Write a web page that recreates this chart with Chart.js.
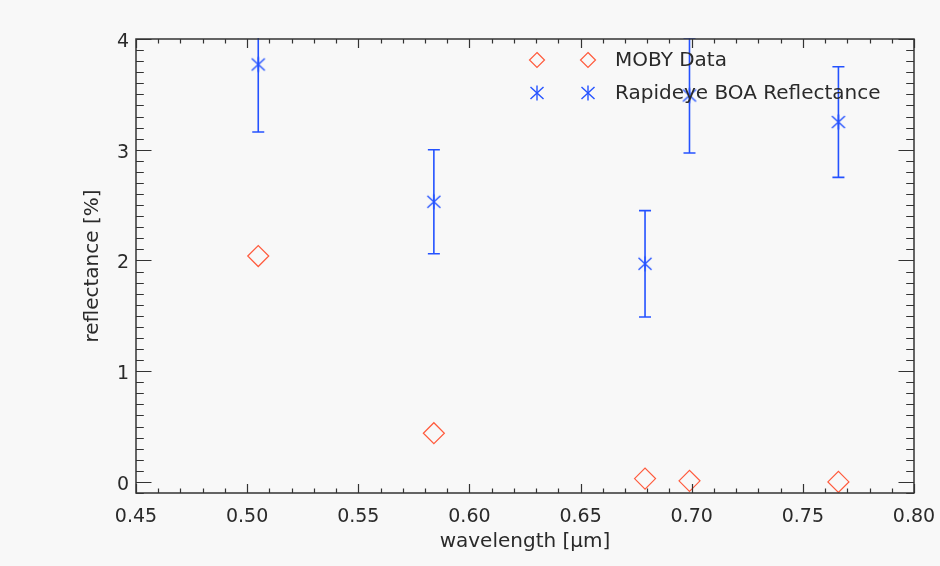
<!DOCTYPE html>
<html>
<head>
<meta charset="utf-8">
<script src="https://cdn.jsdelivr.net/npm/chart.js@4.4.1/dist/chart.umd.min.js"></script>
<style>
  html, body { margin: 0; padding: 0; background: #f8f8f8; }
  canvas { display: block; }
</style>
</head>
<body>
<canvas id="chart" width="940" height="566"></canvas>
<script>
// MOBY in-situ vs Rapideye bottom-of-atmosphere reflectance, per band.

const mobyWl = [0.505, 0.584, 0.679, 0.699, 0.766];
const mobyRefl = [2.04, 0.44, 0.03, 0.01, 0.0];

const rapWl = [0.505, 0.584, 0.679, 0.699, 0.766];
const rapRefl = [3.77, 2.53, 1.97, 3.49, 3.25];
const rapErr = [0.61, 0.47, 0.48, 0.52, 0.50];

const xTicks = [0.45, 0.50, 0.55, 0.60, 0.65, 0.70, 0.75, 0.80];
const yTicks = [0, 1, 2, 3, 4];
const seriesNames = ['MOBY Data', 'Rapideye BOA Reflectance'];

const FONT = '"DejaVu Sans", sans-serif';
const INK = '#2a2a2a';
const RED = '#ff5a3c';
const BLUE = '#2452ff';

// IDL-style asterisk: vertical stroke plus an X.
function makeAsterisk(r, color) {
  const s = Math.ceil(2 * r + 3);
  const c = document.createElement('canvas');
  c.width = c.height = s;
  const g = c.getContext('2d');
  g.translate(s / 2, s / 2);
  g.strokeStyle = color;
  g.lineWidth = 1.4;
  const arms = [[0, r], [r * 0.87, r * 0.8], [r * 0.87, -r * 0.8]];
  for (const [dx, dy] of arms) {
    g.beginPath();
    g.moveTo(-dx, -dy);
    g.lineTo(dx, dy);
    g.stroke();
  }
  return c;
}
const star = makeAsterisk(7.5, BLUE);

const bgPlugin = {
  id: 'bg',
  beforeDraw(chart) {
    const ctx = chart.ctx;
    ctx.save();
    ctx.fillStyle = '#f8f8f8';
    ctx.fillRect(0, 0, chart.width, chart.height);
    ctx.restore();
  },
};

// Error bars for the Rapideye series, clipped to the plot box.
const errorBarPlugin = {
  id: 'errbars',
  afterDatasetsDraw(chart) {
    const { ctx, chartArea: a, scales: { x, y } } = chart;
    ctx.save();
    ctx.beginPath();
    ctx.rect(a.left, a.top - 1, a.right - a.left, a.bottom - a.top + 1);
    ctx.clip();
    ctx.strokeStyle = BLUE;
    ctx.lineWidth = 1.6;
    rapWl.forEach((wl, i) => {
      const px = x.getPixelForValue(wl);
      const y0 = y.getPixelForValue(rapRefl[i] - rapErr[i]);
      const y1 = y.getPixelForValue(rapRefl[i] + rapErr[i]);
      ctx.beginPath();
      ctx.moveTo(px, y0); ctx.lineTo(px, y1);
      ctx.moveTo(px - 6, y0); ctx.lineTo(px + 6, y0);
      ctx.moveTo(px - 6, y1); ctx.lineTo(px + 6, y1);
      ctx.stroke();
    });
    ctx.restore();
  },
};

// Box with inward major/minor ticks on all four sides.
const framePlugin = {
  id: 'frame',
  afterDraw(chart) {
    const { ctx, chartArea: a, scales: { x, y } } = chart;
    ctx.save();
    ctx.strokeStyle = '#333';
    ctx.lineWidth = 1.5;
    ctx.strokeRect(a.left, a.top, a.right - a.left, a.bottom - a.top);
    ctx.lineWidth = 1.2;
    ctx.beginPath();
    for (let i = 45; i <= 80; i++) {
      const px = Math.round(x.getPixelForValue(i / 100)) + 0.5;
      const len = i % 5 === 0 ? 9 : 4.5;
      ctx.moveTo(px, a.bottom); ctx.lineTo(px, a.bottom - len);
      ctx.moveTo(px, a.top); ctx.lineTo(px, a.top + len);
    }
    for (let i = -1; i <= 40; i++) {
      const py = Math.round(y.getPixelForValue(i / 10)) + 0.5;
      const len = i % 10 === 0 ? 15.5 : 7.8;
      ctx.moveTo(a.left, py); ctx.lineTo(a.left + len, py);
      ctx.moveTo(a.right, py); ctx.lineTo(a.right - len, py);
    }
    ctx.stroke();
    ctx.restore();
  },
};

// Two symbols per entry, the way IDL's legend draws them.
const legendPlugin = {
  id: 'idlLegend',
  afterDraw(chart) {
    const ctx = chart.ctx;
    const rows = [60, 93];
    const cols = [537, 588];
    ctx.save();
    ctx.font = '20px ' + FONT;
    ctx.textBaseline = 'middle';
    ctx.textAlign = 'left';
    ctx.fillStyle = INK;
    rows.forEach((ry, r) => {
      for (const cx of cols) {
        if (r === 0) {
          ctx.strokeStyle = RED;
          ctx.lineWidth = 1.2;
          ctx.beginPath();
          ctx.moveTo(cx, ry - 7.5); ctx.lineTo(cx + 7.5, ry);
          ctx.lineTo(cx, ry + 7.5); ctx.lineTo(cx - 7.5, ry);
          ctx.closePath();
          ctx.stroke();
        } else {
          ctx.drawImage(star, cx - star.width / 2, ry - star.height / 2);
        }
      }
      ctx.fillText(seriesNames[r], 615, ry + 1);
    });
    ctx.restore();
  },
};

new Chart(document.getElementById('chart'), {
  type: 'scatter',
  data: {
    datasets: [
      {
        label: seriesNames[0],
        data: mobyWl.map((wl, i) => ({ x: wl, y: mobyRefl[i] })),
        pointStyle: 'rectRot', pointRadius: 10.5,
        borderColor: RED, backgroundColor: 'rgba(0,0,0,0)', borderWidth: 1.2,
      },
      {
        label: seriesNames[1],
        data: rapWl.map((wl, i) => ({ x: wl, y: rapRefl[i] })),
        pointStyle: star, pointRadius: 8,
        borderColor: BLUE, backgroundColor: BLUE,
      },
    ],
  },
  options: {
    responsive: false, animation: false, devicePixelRatio: 1,
    layout: { padding: { top: 39, right: 26, left: 0, bottom: 0 } },
    plugins: { legend: { display: false }, tooltip: { enabled: false } },
    scales: {
      x: {
        type: 'linear', min: 0.45, max: 0.80,
        grid: { display: false, drawTicks: false }, border: { display: false },
        afterBuildTicks: s => { s.ticks = xTicks.map(v => ({ value: v })); },
        // fixed band height; labels may overhang the plot edges like IDL's
        afterFit: s => { s.height = 73; s.paddingLeft = 0; s.paddingRight = 0; },
        ticks: { padding: 13, color: INK, font: { family: FONT, size: 19 }, callback: v => v.toFixed(2) },
        title: { display: true, text: 'wavelength [μm]', color: INK,
                 font: { family: FONT, size: 20 }, padding: { top: 0, bottom: 12 } },
      },
      y: {
        type: 'linear', min: -0.1, max: 4,
        grid: { display: false, drawTicks: false }, border: { display: false },
        afterBuildTicks: s => { s.ticks = yTicks.map(v => ({ value: v })); },
        afterFit: s => { s.width = 136; s.paddingTop = 0; s.paddingBottom = 0; },
        ticks: { padding: 7, labelOffset: 3, color: INK, font: { family: FONT, size: 19 }, callback: v => String(v) },
        title: { display: true, text: 'reflectance [%]', color: INK,
                 font: { family: FONT, size: 20 }, padding: { top: 81, bottom: 0 } },
      },
    },
  },
  plugins: [bgPlugin, errorBarPlugin, framePlugin, legendPlugin],
});
</script>
</body>
</html>
